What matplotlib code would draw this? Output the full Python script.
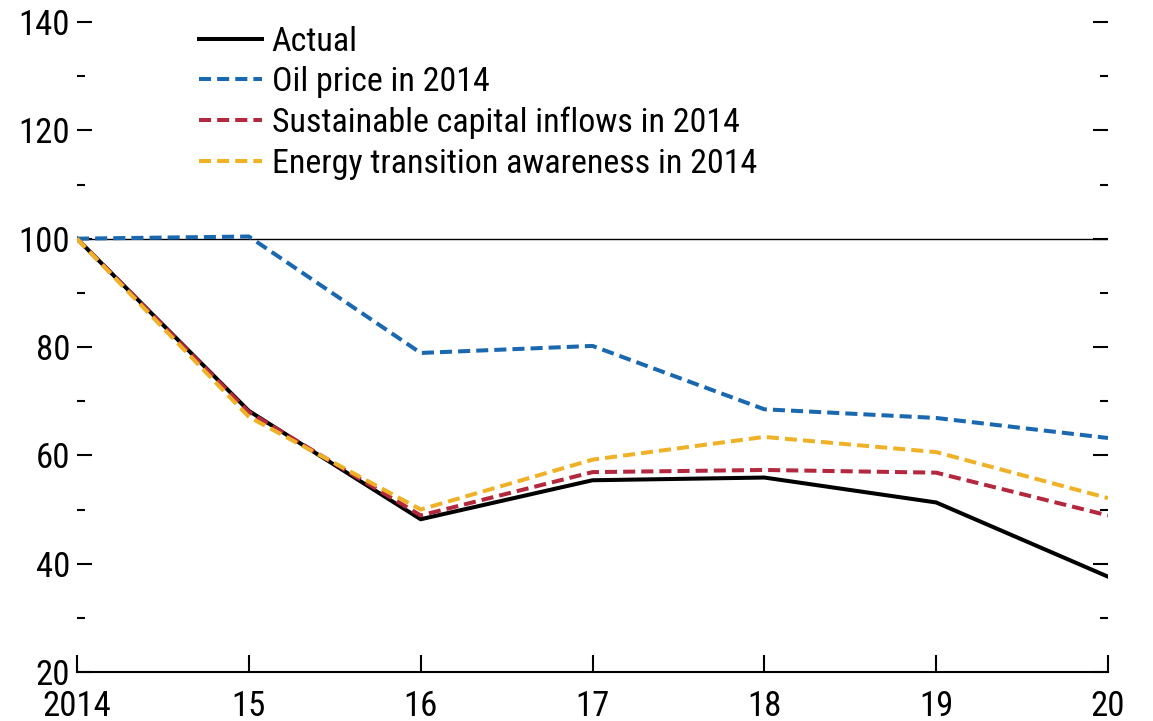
import matplotlib
matplotlib.use("Agg")
import matplotlib.pyplot as plt
from matplotlib.ticker import MultipleLocator

plt.rcParams['font.family'] = ['Liberation Sans Narrow', 'Roboto Condensed', 'Archivo Narrow',
                               'Liberation Sans', 'DejaVu Sans']

# dados
years = [2014, 2015, 2016, 2017, 2018, 2019, 2020]
xlabels = ['2014', '15', '16', '17', '18', '19', '20']
actual = [100, 68.2, 48.2, 55.4, 55.9, 51.3, 37.6]
oil = [100, 100.4, 78.9, 80.2, 68.5, 66.9, 63.2]
capital = [100, 68.0, 48.9, 56.9, 57.3, 56.8, 48.9]
energy = [100, 67.1, 50.0, 59.2, 63.4, 60.6, 52.1]

blue = '#1a69b0'
red = '#b4283d'
yellow = '#efb227'

fig = plt.figure(figsize=(11.53, 7.21), dpi=100)
ax = fig.add_axes([77/1153, 49/721, 1031/1153, 650/721])

ax.axhline(100, color='black', lw=1.0, zorder=1)
ax.plot(years, actual, color='black', lw=2.9, label='Actual', zorder=2)
ax.plot(years, oil, color=blue, lw=2.9, ls=(0, (3, 1.5)), label='Oil price in 2014', zorder=3)
ax.plot(years, capital, color=red, lw=2.9, ls=(0, (3, 1.5)), label='Sustainable capital inflows in 2014', zorder=3)
ax.plot(years, energy, color=yellow, lw=2.9, ls=(0, (3, 1.5)), label='Energy transition awareness in 2014', zorder=4)

ax.set_xlim(2014, 2020)
ax.set_ylim(20, 140)
ax.set_xticks(years)
ax.set_xticklabels(xlabels)
ax.yaxis.set_major_locator(MultipleLocator(20))
ax.yaxis.set_minor_locator(MultipleLocator(10))

for s in ['top', 'left', 'right']:
    ax.spines[s].set_visible(False)
ax.spines['bottom'].set_linewidth(1.5)

ax.tick_params(axis='x', direction='in', length=12, width=1.5, labelsize=25, pad=13)
ax.tick_params(axis='y', which='major', direction='in', length=11, width=1.5,
               labelsize=25, right=True, pad=5)
ax.tick_params(axis='y', which='minor', direction='in', length=6, width=1.5, right=True)

ax.legend(loc='upper left', bbox_to_anchor=(108/1031, 1.015), frameon=False, fontsize=24.5,
          handlelength=1.85, handletextpad=0.3, labelspacing=0.25, borderaxespad=0)

fig.savefig('out.png', dpi=100)
